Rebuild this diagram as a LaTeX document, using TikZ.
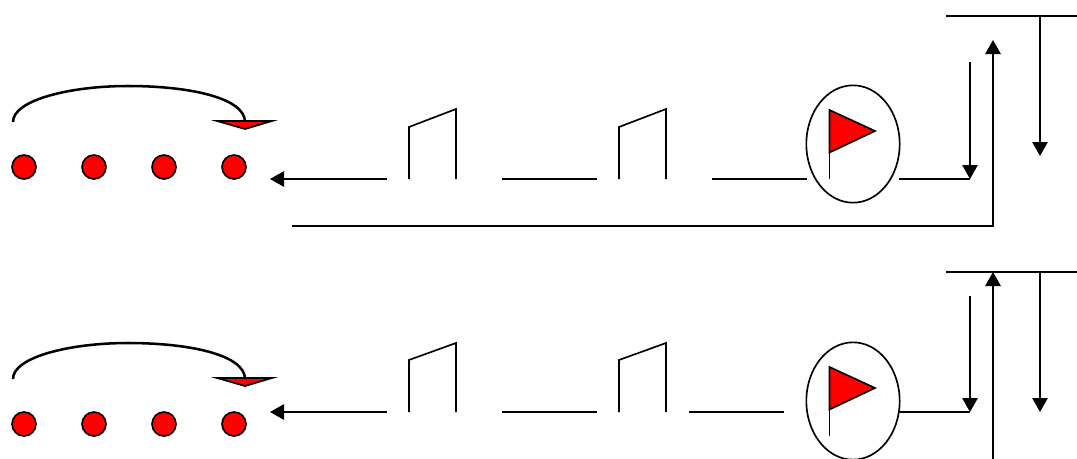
\documentclass[tikz,border=0pt]{standalone}
\usetikzlibrary{arrows.meta,shapes.geometric}
\definecolor{flagred}{RGB}{255,0,0}
\tikzset{
  wire/.style={line width=1.3pt,black},
  flow/.style={wire,-{Triangle[length=10.5pt,width=11.5pt]}},
  gatepath/.style={line width=1.25pt,line join=miter},
  dotnode/.style={circle,draw=black,line width=1.25pt,fill=flagred,minimum size=18pt,inner sep=0pt},
  pump/.style={ellipse,draw=black,line width=1.25pt,minimum width=70pt,minimum height=88pt,inner sep=0pt},
  redfill/.style={draw=black,line width=1.25pt,fill=flagred,line join=miter},
  hop/.style={line width=1.9pt,line cap=butt}
}
\begin{document}
\begin{tikzpicture}[x=0.75pt,y=-0.75pt]
\useasboundingbox[fill=white] (0,0) rectangle (1077,458);
\clip (0,0) rectangle (1077,458);
% ---- top row
\foreach \n/\x in {a/24,b/94,c/164,d/234} \node[dotnode] (t\n) at (\x,167) {};
\draw[redfill] (217,121) -- (272,121) -- (245,129) -- cycle;
\draw[hop] (13,122) .. controls (13,100) and (70,86) .. (128,86) .. controls (190,86) and (245,98) .. (245,122);
\coordinate (t1s) at (387,179); \coordinate (t1e) at (270,179);
\draw[flow] (t1s) -- (t1e);
\draw[gatepath] (409,179) -- (409,127) -- (456,109) -- (456,179);
\coordinate (t2s) at (502,179); \coordinate (t2e) at (597,179);
\draw[wire] (t2s) -- (t2e);
\draw[gatepath] (619,179) -- (619,127) -- (666,109) -- (666,179);
\coordinate (t3s) at (712,179); \coordinate (t3e) at (807,179);
\draw[wire] (t3s) -- (t3e);
\node[pump] (tp) at (853,144) {};
\draw[wire] (829.5,109) -- (829.5,179);
\draw[redfill] (829.5,110) -- (875,131) -- (829.5,152.5) -- cycle;
\coordinate (t4s) at (899,179); \coordinate (t4e) at (970,179); \coordinate (t4t) at (970,62);
\draw[wire] (t4s) -- (t4e);
\draw[flow] (t4t) -- (t4e);
\coordinate (tfa) at (292,226); \coordinate (tfb) at (993,226); \coordinate (tfc) at (993,40);
\draw[flow] (tfa) -- (tfb) -- (tfc);
\coordinate (tba) at (946,16); \coordinate (tbb) at (1077,16); \coordinate (tbc) at (1040,16); \coordinate (tbd) at (1040,156);
\draw[wire] (tba) -- (tbb);
\draw[flow] (tbc) -- (tbd);
% ---- bottom row
\foreach \n/\x in {a/24,b/94,c/164,d/234} \node[dotnode] (b\n) at (\x,424) {};
\draw[redfill] (217,378) -- (272,378) -- (245,386) -- cycle;
\draw[hop] (13,379) .. controls (13,357) and (70,343) .. (128,343) .. controls (190,343) and (245,355) .. (245,379);
\coordinate (b1s) at (387,412); \coordinate (b1e) at (270,412);
\draw[flow] (b1s) -- (b1e);
\draw[gatepath] (409,412) -- (409,360) -- (456,343) -- (456,412);
\coordinate (b2s) at (502,412); \coordinate (b2e) at (597,412);
\draw[wire] (b2s) -- (b2e);
\draw[gatepath] (619,412) -- (619,360) -- (666,343) -- (666,412);
\coordinate (b3s) at (689,412); \coordinate (b3e) at (784,412);
\draw[wire] (b3s) -- (b3e);
\node[pump] (bp) at (853,401) {};
\draw[wire] (829.5,366) -- (829.5,436);
\draw[redfill] (829.5,367) -- (875,388) -- (829.5,409.5) -- cycle;
\coordinate (b4e) at (970,412); \coordinate (b4t) at (970,296);
\draw[wire] (899,412) -- (b4e);
\draw[flow] (b4t) -- (b4e);
\coordinate (bfa) at (993,470); \coordinate (bfc) at (993,272);
\draw[flow] (bfa) -- (bfc);
\coordinate (bba) at (946,272); \coordinate (bbb) at (1077,272); \coordinate (bbc) at (1040,272); \coordinate (bbd) at (1040,412);
\draw[wire] (bba) -- (bbb);
\draw[flow] (bbc) -- (bbd);
\end{tikzpicture}
\end{document}
